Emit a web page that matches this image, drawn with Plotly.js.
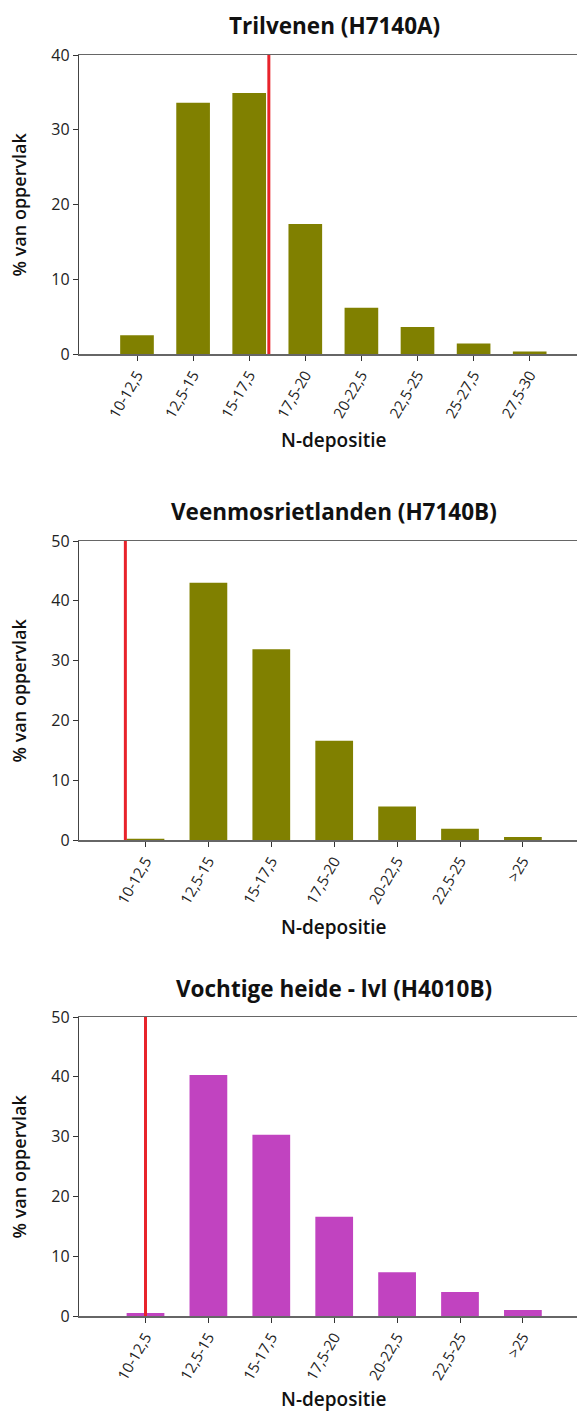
<!DOCTYPE html>
<html>
<head>
<meta charset="utf-8">
<script src="https://cdn.plot.ly/plotly-3.0.1.min.js"></script>
<style>html,body{margin:0;padding:0;background:#fff;}#chart{width:577px;height:1412px;}</style>
</head>
<body>
<div id="chart"></div>
<script>
// ---- data ----
const titles = ["Trilvenen (H7140A)", "Veenmosrietlanden (H7140B)", "Vochtige heide - lvl (H4010B)"];
const cats1 = ["10-12,5", "12,5-15", "15-17,5", "17,5-20", "20-22,5", "22,5-25", "25-27,5", "27,5-30"];
const cats2 = ["10-12,5", "12,5-15", "15-17,5", "17,5-20", "20-22,5", "22,5-25", ">25"];
const cats3 = ["10-12,5", "12,5-15", "15-17,5", "17,5-20", "20-22,5", "22,5-25", ">25"];
const vals1 = [2.5, 33.6, 34.9, 17.4, 6.2, 3.6, 1.4, 0.35];
const vals2 = [0.2, 43.0, 31.9, 16.6, 5.6, 1.9, 0.5];
const vals3 = [0.5, 40.3, 30.3, 16.6, 7.3, 4.0, 1.0];
// critical deposition value, expressed in category position
const crit = [2.35, -0.32, 0.0];
const yMax = [40, 50, 50];
const xTitle = "N-depositie";
const yTitle = "% van oppervlak";

// ---- layout helpers ----
const W = 577, H = 1412;
const FONT = "Open Sans, Noto Sans, DejaVu Sans, sans-serif";
const plotLeft = 79;
const plotTops = [55, 541, 1017];
const plotBottoms = [354, 840, 1316];
const firstTick = [137, 145.5, 145.5];
const spacing = [56.1, 62.9, 62.9];
const colors = ["#808000", "#808000", "#c143c0"];
const catsList = [cats1, cats2, cats3];
const valsList = [vals1, vals2, vals3];
const titleY = [25, 512, 988];
const xTitleY = [440, 927, 1399];

const data = [];
const layout = {
  width: W, height: H, autosize: false,
  margin: {l: 0, r: 0, t: 0, b: 0},
  paper_bgcolor: "#fff", plot_bgcolor: "#fff",
  showlegend: false, bargap: 0.4,
  font: {family: FONT, color: "#222", size: 13},
  shapes: [], annotations: []
};

for (let i = 0; i < 3; i++) {
  const sfx = i === 0 ? "" : String(i + 1);
  data.push({
    type: "bar", x: catsList[i], y: valsList[i],
    xaxis: "x" + sfx, yaxis: "y" + sfx,
    marker: {color: colors[i], line: {width: 0}},
    width: 0.6, hoverinfo: "x+y"
  });
  const plotW = W - plotLeft;
  const xmin = (plotLeft - firstTick[i]) / spacing[i];
  const xmax = xmin + plotW / spacing[i];
  layout["xaxis" + sfx] = {
    domain: [plotLeft / W, 1], anchor: "y" + sfx, type: "category",
    range: [xmin, xmax], showgrid: false, zeroline: false,
    showline: true, linecolor: "#666", linewidth: 1.5, mirror: true,
    ticks: "outside", ticklen: 5, tickcolor: "#333", tickwidth: 1,
    tickangle: -60, tickfont: {size: 15, color: "#222", family: FONT},
    fixedrange: true
  };
  layout["yaxis" + sfx] = {
    domain: [1 - plotBottoms[i] / H, 1 - plotTops[i] / H], anchor: "x" + sfx,
    range: [0, yMax[i]], dtick: 10, showgrid: false, zeroline: false,
    showline: true, linecolor: "#444", linewidth: 1.2,
    ticks: "outside", ticklen: 5, tickcolor: "#333",
    tickfont: {size: 16, color: "#222", family: FONT}, fixedrange: true
  };
  layout.shapes.push({
    type: "line", xref: "x" + sfx, yref: "y" + sfx,
    x0: crit[i], x1: crit[i], y0: 0, y1: yMax[i],
    line: {color: "#e8232b", width: 3}
  });
  layout.annotations.push({
    text: titles[i], xref: "paper", yref: "paper",
    x: 334 / W, y: 1 - titleY[i] / H, xanchor: "center", yanchor: "middle",
    showarrow: false, font: {size: 22.5, color: "#111", family: FONT, weight: 700}
  });
  layout.annotations.push({
    text: xTitle, xref: "paper", yref: "paper",
    x: 334 / W, y: 1 - xTitleY[i] / H, xanchor: "center", yanchor: "middle",
    showarrow: false, borderpad: 0,
    font: {size: 19, color: "#111", family: FONT, weight: 600}
  });
  layout.annotations.push({
    text: yTitle, xref: "paper", yref: "paper",
    x: 18 / W, y: 1 - ((plotTops[i] + plotBottoms[i]) / 2) / H,
    xanchor: "center", yanchor: "middle", textangle: -90,
    showarrow: false, font: {size: 18, color: "#111", family: FONT, weight: 600}
  });
}

Plotly.newPlot("chart", data, layout, {displayModeBar: false, staticPlot: true});
</script>
</body>
</html>
